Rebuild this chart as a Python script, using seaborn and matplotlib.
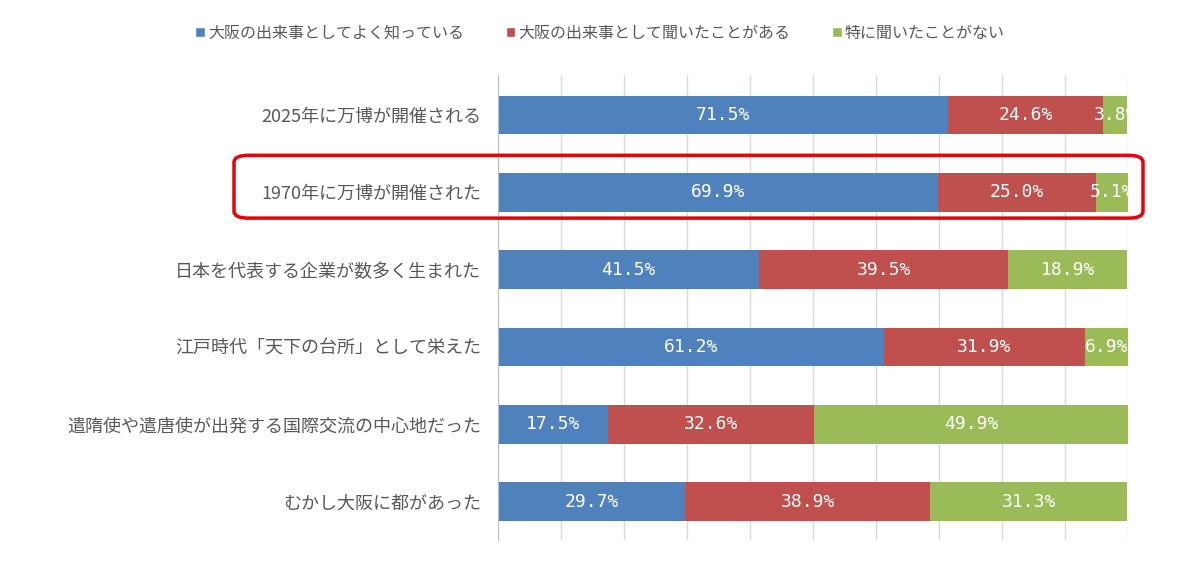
import pandas as pd
import seaborn as sns
import matplotlib.pyplot as plt
from matplotlib.patches import FancyBboxPatch, Patch

# Survey data (percent)
items = ['2025年に万博が開催される', '1970年に万博が開催された', '日本を代表する企業が数多く生まれた',
         '江戸時代「天下の台所」として栄えた', '遣隋使や遣唐使が出発する国際交流の中心地だった', 'むかし大阪に都があった']
know_well = [71.5, 69.9, 41.5, 61.2, 17.5, 29.7]
heard = [24.6, 25.0, 39.5, 31.9, 32.6, 38.9]
not_heard = [3.8, 5.1, 18.9, 6.9, 49.9, 31.3]
series_names = ['大阪の出来事としてよく知っている', '大阪の出来事として聞いたことがある', '特に聞いたことがない']
colors = ['#4F81BD', '#C0504D', '#9BBB59']

df = pd.DataFrame({'item': items, 'a': know_well, 'b': heard, 'c': not_heard})
df['ab'] = df['a'] + df['b']
df['abc'] = df['ab'] + df['c']

sns.set_style('white')
plt.rcParams['font.family'] = ['Noto Sans CJK JP', 'DejaVu Sans']

fig = plt.figure(figsize=(12, 5.71), dpi=100)
ax = fig.add_axes([0.415, 0.054, 0.525, 0.815])

# stacked bars: draw cumulative totals back to front
for col, c in zip(['abc', 'ab', 'a'], colors[::-1]):
    sns.barplot(data=df, x=col, y='item', orient='h', color=c, width=0.5,
                saturation=1, ax=ax, edgecolor='none')

# value labels in the middle of each segment
starts = [0] * len(items)
for vals in [know_well, heard, not_heard]:
    for i, v in enumerate(vals):
        ax.text(starts[i] + v / 2, i, f'{v:.1f}%', ha='center', va='center',
                color='white', fontsize=13, family='DejaVu Sans Mono')
        starts[i] += v

ax.set_xlim(0, 100)
ax.set_ylim(len(items) - 0.5, -0.52)
ax.set_xticks(range(0, 101, 10))
ax.xaxis.grid(True, color='#D9D9D9', linewidth=1)
ax.set_axisbelow(True)
ax.tick_params(axis='x', length=0, labelbottom=False)
ax.tick_params(axis='y', length=0, pad=12, labelsize=13, labelcolor='#595959')
ax.set_xlabel('')
ax.set_ylabel('')
for s in ['top', 'right', 'bottom']:
    ax.spines[s].set_visible(False)
ax.spines['left'].set_color('#BFBFBF')

handles = [Patch(facecolor=c, label=n) for c, n in zip(colors, series_names)]
fig.legend(handles=handles, loc='center', bbox_to_anchor=(0.5, 0.942), ncol=3,
           frameon=False, fontsize=11.5, labelcolor='#595959', handlelength=0.6,
           handleheight=0.6, handletextpad=0.2, columnspacing=2.6)

# highlight box around the 1970 row
box = FancyBboxPatch((0.195, 0.618), 0.7575, 0.110, boxstyle='round,pad=0,rounding_size=0.012',
                     transform=fig.transFigure, fill=False, edgecolor='#E8000B', linewidth=2.5)
fig.patches.append(box)

fig.savefig('out.png', dpi=100, facecolor='white')
